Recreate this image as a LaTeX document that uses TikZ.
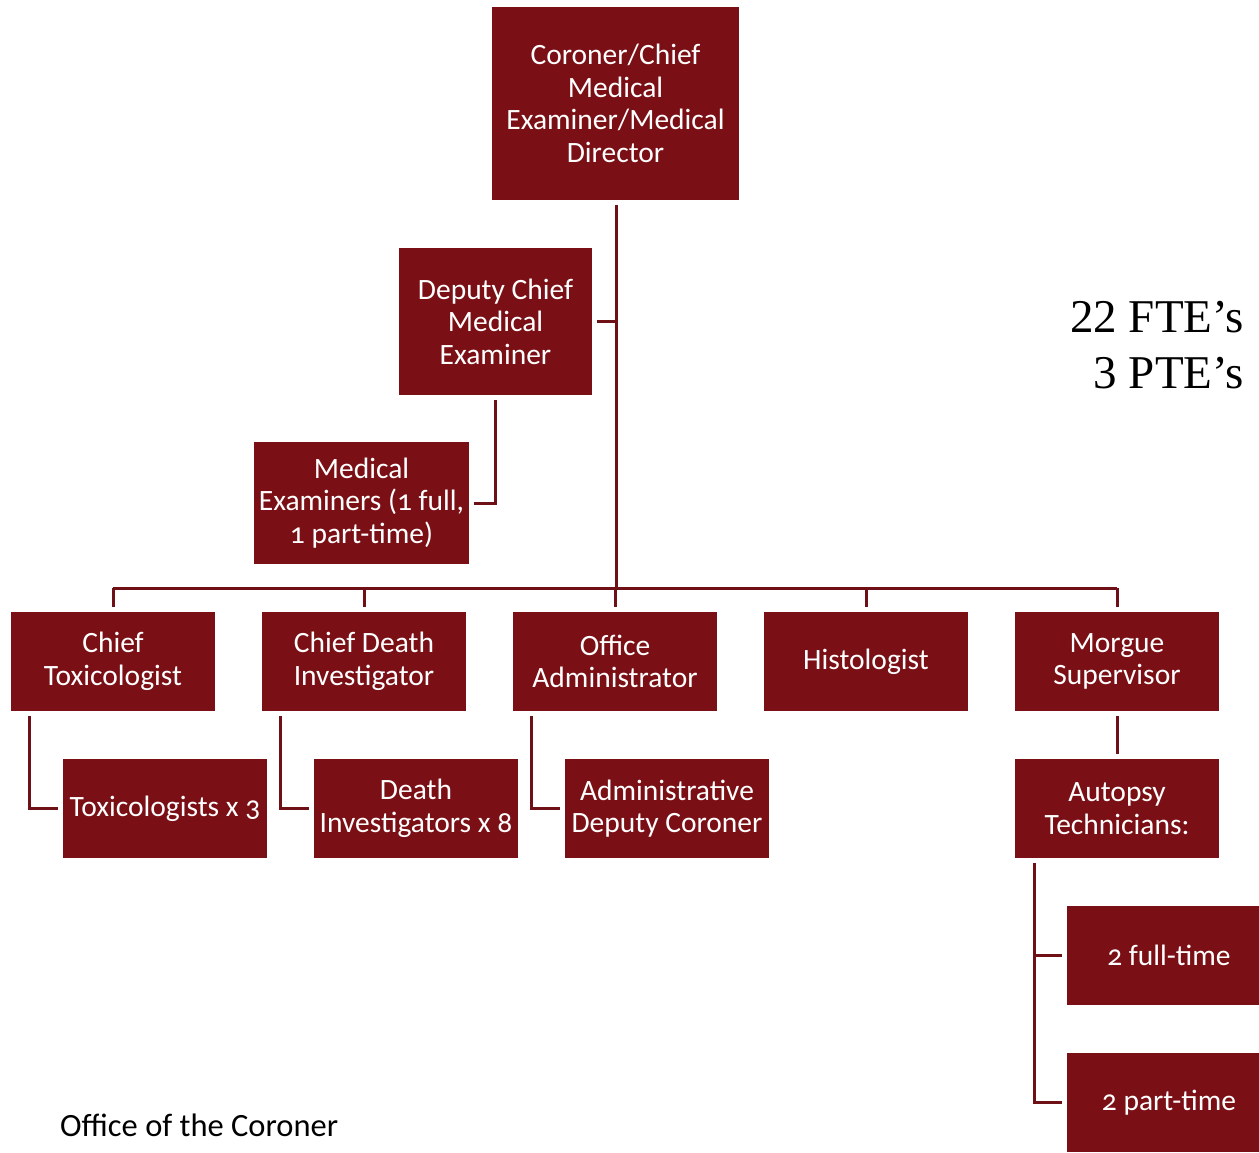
\documentclass[tikz,border=0pt]{standalone}
\usepackage{fontspec}
\setmainfont{Carlito}[Numbers=OldStyle]
\newfontfamily\timesfont{Liberation Serif}
\definecolor{boxred}{HTML}{7A1015}
\definecolor{linered}{HTML}{6E1016}
\tikzset{
  box/.style={fill=boxred, draw=none, text=white, align=center, inner sep=0pt,
    font=\fontsize{29.5}{32.5}\selectfont},
  conn/.style={draw=linered, line width=3pt},
}
\begin{document}
\begin{tikzpicture}[x=1pt,y=-1pt]
\path[use as bounding box] (0,0) rectangle (1259,1152);
% boxes
\node[box, minimum width=247pt, minimum height=193pt] (top) at (615.5,103.5) {Coroner/Chief\\Medical\\Examiner/Medical\\Director};
\node[box, minimum width=193pt, minimum height=147pt] (dep) at (495.5,321.5) {Deputy Chief\\Medical\\Examiner};
\node[box, minimum width=215pt, minimum height=122pt] (me) at (361.5,503) {Medical\\Examiners (1 full,\\1 part-time)};
\node[box, minimum width=204pt, minimum height=99pt] (ct) at (113,661.5) {Chief\\Toxicologist};
\node[box, minimum width=204pt, minimum height=99pt] (cd) at (364,661.5) {Chief Death\\Investigator};
\node[box, minimum width=204pt, minimum height=99pt] (oa) at (615,661.5) {Office\\Administrator};
\node[box, minimum width=204pt, minimum height=99pt] (hi) at (866,661.5) {Histologist};
\node[box, minimum width=204pt, minimum height=99pt] (ms) at (1117,661.5) {Morgue\\Supervisor};
\node[box, minimum width=204pt, minimum height=99pt] (tx) at (165,808.5) {Toxicologists x 3};
\node[box, minimum width=204pt, minimum height=99pt] (di) at (416,808.5) {Death\\Investigators x 8};
\node[box, minimum width=204pt, minimum height=99pt] (ad) at (667,808.5) {Administrative\\Deputy Coroner};
\node[box, minimum width=204pt, minimum height=99pt] (at) at (1117,808.5) {Autopsy\\Technicians:};
\node[box, minimum width=192pt, minimum height=99pt] (ft) at (1163,955.5) {\hspace*{12pt}2 full-time};
\node[box, minimum width=192pt, minimum height=99pt] (pt) at (1163,1102.5) {\hspace*{12pt}2 part-time};
% texts
\node[anchor=base west, inner sep=0pt, font=\fontsize{32.5}{36}\selectfont] (title) at (60,1136) {Office of the Coroner};
\node[anchor=base east, inner sep=0pt, align=right, font=\timesfont\fontsize{47}{56}\selectfont] (fte) at (1244,332) {22 FTE’s};
\node[anchor=base east, inner sep=0pt, align=right, font=\timesfont\fontsize{47}{56}\selectfont] (pte) at (1244,388) {3 PTE’s};
% connectors
\coordinate (bus) at (616,588);
\draw[conn] ([yshift=-5pt]top.south -| bus) -- (bus);
\draw[conn] (ct.north |- bus) -- (ms.north |- bus);
\foreach \n in {ct,cd,oa,hi,ms}{
  \draw[conn] (\n.north |- bus) -- ([yshift=5pt]\n.north);
}
\draw[conn] ([xshift=5pt]dep.east) -- (dep.east -| bus);
\draw[conn] ([yshift=-5pt]dep.south) |- ([xshift=5pt]me.east);
\draw[conn] ([xshift=19pt,yshift=-5pt]ct.south west) |- ([xshift=-5pt]tx.west);
\draw[conn] ([xshift=19pt,yshift=-5pt]cd.south west) |- ([xshift=-5pt]di.west);
\draw[conn] ([xshift=19pt,yshift=-5pt]oa.south west) |- ([xshift=-5pt]ad.west);
\draw[conn] ([yshift=-5pt]ms.south) -- ([yshift=5pt]at.north);
\draw[conn] ([xshift=20pt,yshift=-5pt]at.south west) |- ([xshift=-5pt]ft.west);
\draw[conn] ([xshift=20pt,yshift=-5pt]at.south west) |- ([xshift=-5pt]pt.west);
\end{tikzpicture}
\end{document}
